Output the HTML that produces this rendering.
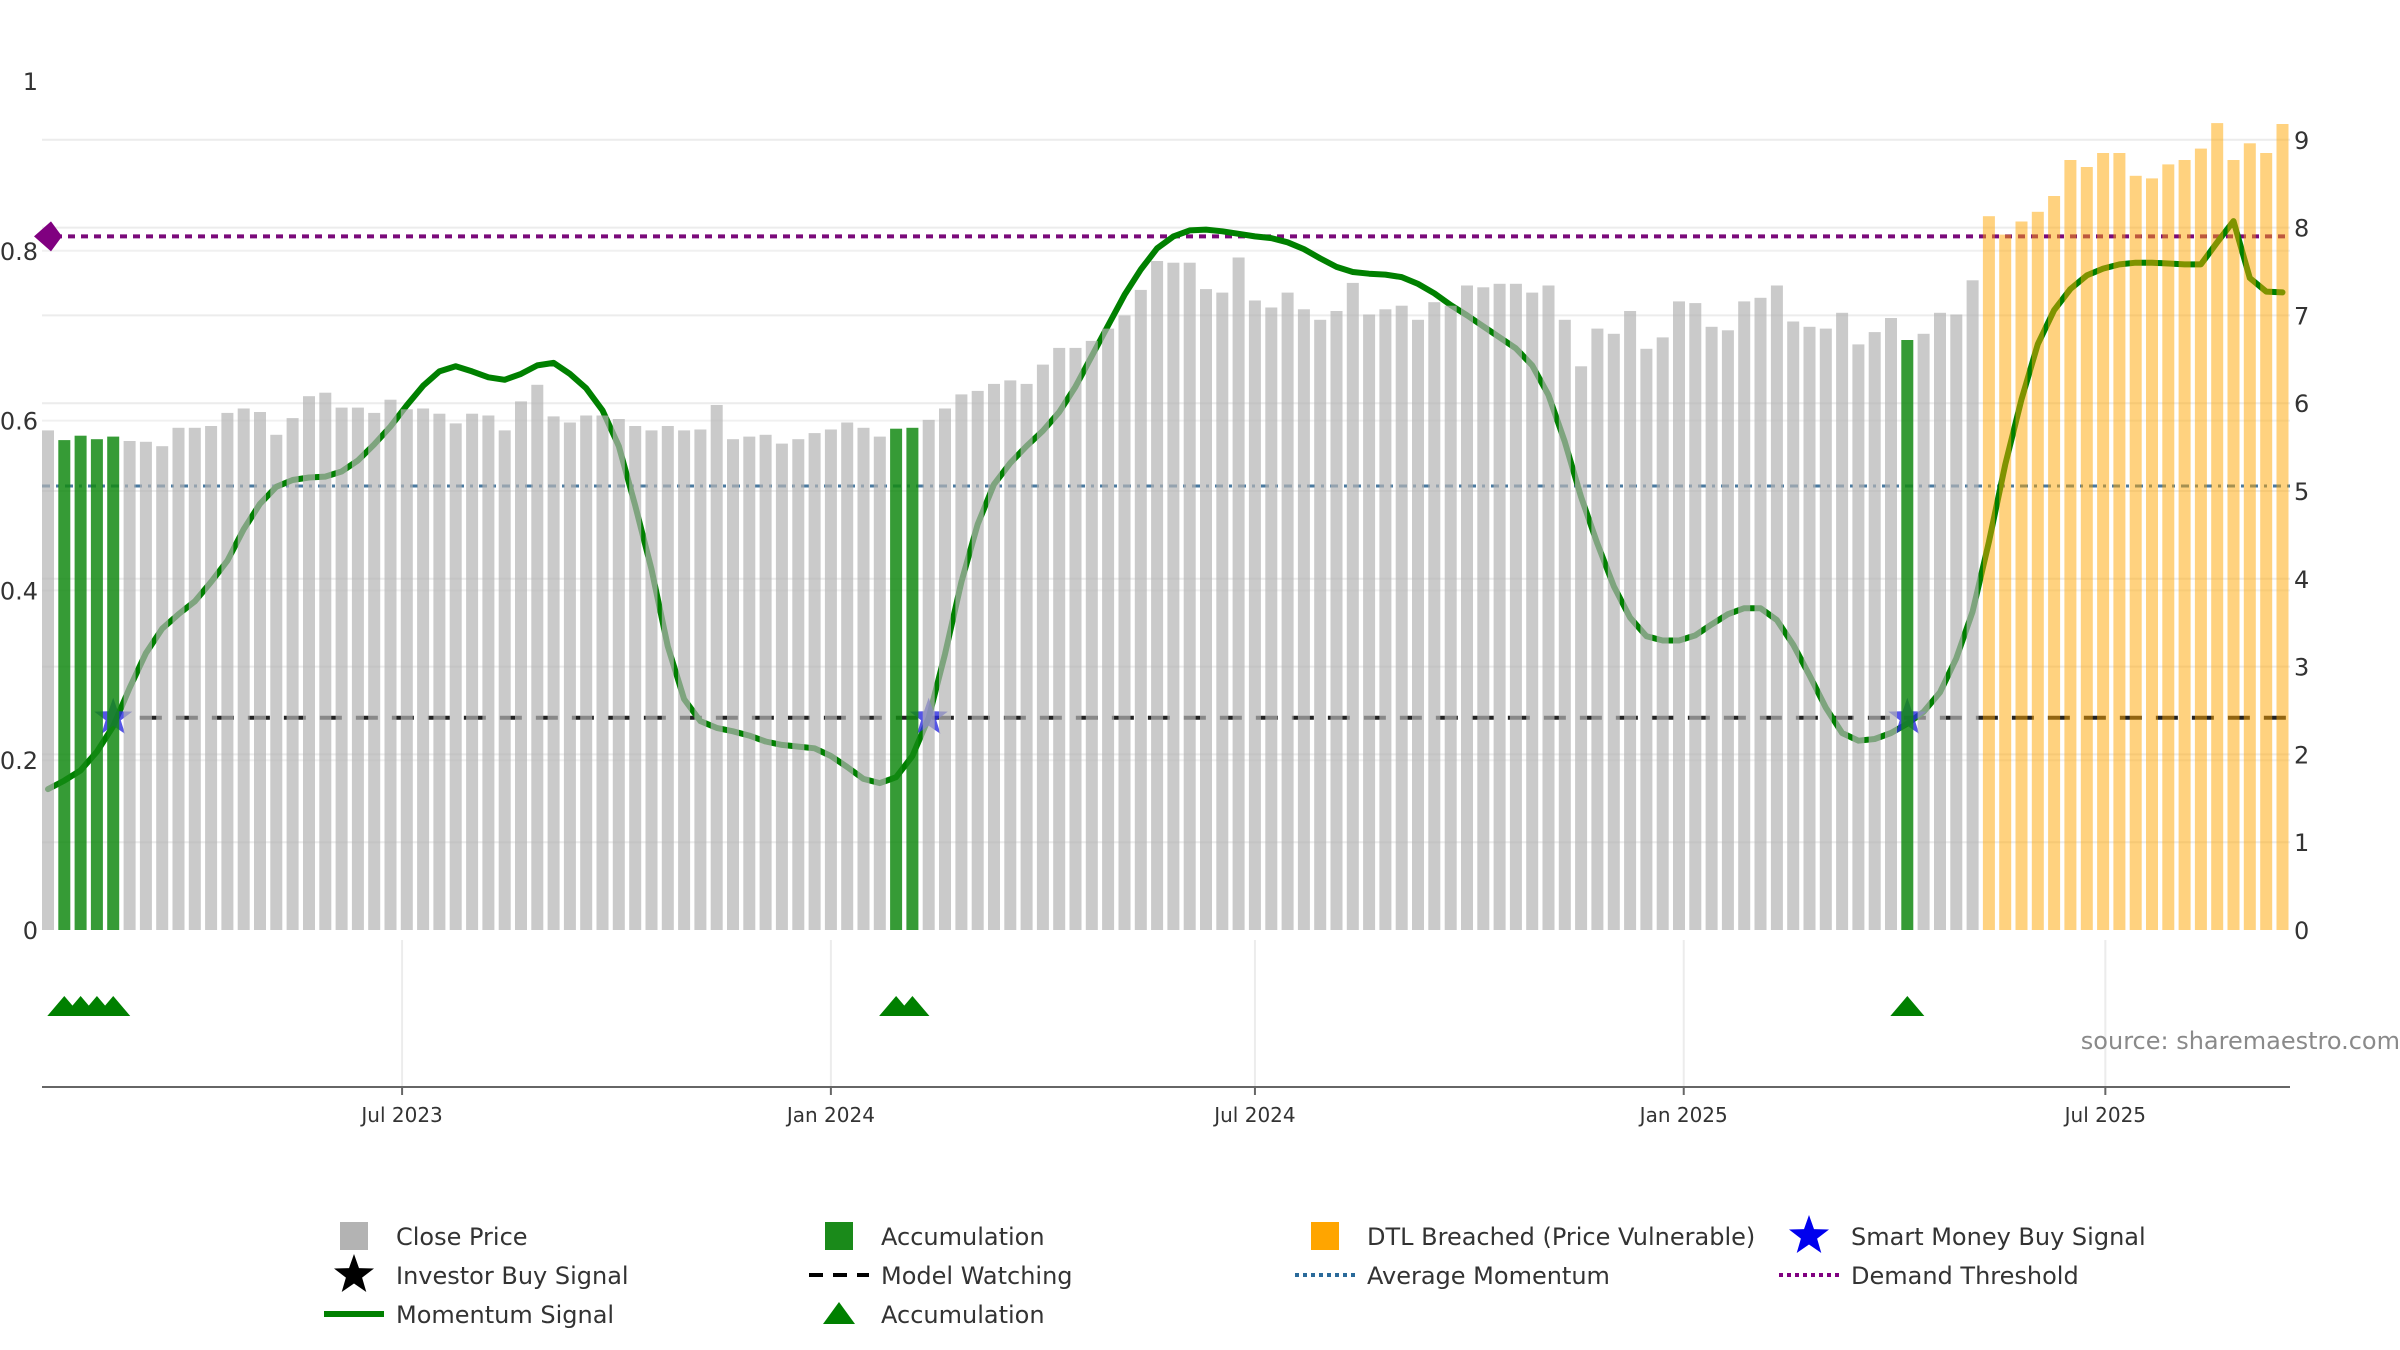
<!DOCTYPE html>
<html>
<head>
<meta charset="utf-8">
<style>
  html,body{margin:0;padding:0;background:#fff;}
  svg{display:block;font-family:"DejaVu Sans","Liberation Sans",sans-serif;}
</style>
</head>
<body>
<svg id="chart" width="2400" height="1350" viewBox="0 0 2400 1350" xmlns="http://www.w3.org/2000/svg"></svg>
<script>
// ---- data ----
const closePrices = [5.69,5.58,5.63,5.59,5.62,5.57,5.56,5.51,5.72,5.72,5.74,5.89,5.94,5.90,5.64,5.83,6.08,6.12,5.95,5.95,5.89,6.04,5.93,5.94,5.88,5.77,5.88,5.86,5.69,6.02,6.21,5.85,5.78,5.86,5.86,5.82,5.74,
5.69,5.74,5.69,5.70,5.98,5.59,5.62,5.64,5.54,5.59,5.66,5.70,5.78,5.72,5.62,5.71,5.72,5.81,5.94,6.10,6.14,6.22,6.26,6.22,6.44,6.63,6.63,6.71,6.85,7.00,7.29,7.62,7.60,7.60,7.30,7.26,7.66,7.17,
7.09,7.26,7.07,6.95,7.05,7.37,7.01,7.07,7.11,6.95,7.15,7.11,7.34,7.32,7.36,7.36,7.26,7.34,6.95,6.42,6.85,6.79,7.05,6.62,6.75,7.16,7.14,6.87,6.83,7.16,7.20,7.34,6.93,6.87,6.85,7.03,6.67,
6.81,6.97,6.72,6.79,7.03,7.01,7.40,8.13,7.92,8.07,8.18,8.36,8.77,8.69,8.85,8.85,8.59,8.56,8.72,8.77,8.90,9.19,8.77,8.96,8.85,9.18];
const momentum = [.166,.176,.188,.21,.24,.285,.326,.355,.372,.387,.41,.435,.472,.502,.522,.53,.533,.534,.54,.553,.572,.593,.618,.641,.658,.664,.658,.651,.648,.655,.665,.668,.655,.638,.612,.57,.5,.425,.334,.272,
.246,.238,.234,.229,.222,.218,.216,.214,.205,.192,.178,.173,.18,.205,.25,.325,.41,.478,.525,.55,.57,.588,.61,.64,.676,.712,.748,.778,.803,.817,.824,.825,.823,.82,.817,.815,.81,.802,.791,.781,
.775,.773,.772,.769,.761,.75,.736,.724,.711,.698,.685,.665,.63,.575,.51,.455,.405,.368,.346,.341,.341,.347,.36,.372,.379,.379,.365,.336,.3,.262,.232,.223,.225,.232,.243,.257,.28,.32,.375,.457,
.548,.625,.69,.73,.755,.771,.779,.784,.786,.786,.785,.784,.784,.81,.835,.768,.752,.751];
const accumulationWeeks = [2,3,4,5,53,54,115];
const smartMoneyWeeks = [5,55,115];
const dtlStartWeek = 120;
const demandThreshold = 0.817;
const averageMomentum = 0.523;
const modelWatching = 0.25;
const watchStartWeek = 7;
const leftTicks = [0,0.2,0.4,0.6,0.8,1];
const leftTickLabels = ["0","0.2","0.4","0.6","0.8","1"];
const rightTicks = [0,1,2,3,4,5,6,7,8,9];
const dateTickWeeks = [22.71,49,75,101.29,127.14];
const dateTickLabels = ["Jul 2023","Jan 2024","Jul 2024","Jan 2025","Jul 2025"];

// ---- scales ----
const NS="http://www.w3.org/2000/svg";
const svg=document.getElementById('chart');
const X0=48, STEP=16.31, BASE=930, LEFTH=849, RIGHTU=87.8, PL=42, PR=2290;
const xw = w => X0 + (w-1)*STEP;
const yl = v => BASE - v*LEFTH;
const yr = v => BASE - v*RIGHTU;
function mk(tag, attrs, parent){const e=document.createElementNS(NS,tag);for(const k in attrs)e.setAttribute(k,attrs[k]);(parent||svg).appendChild(e);return e;}
function starPts(cx,cy,R,r){let p=[];for(let i=0;i<10;i++){const a=-Math.PI/2+i*Math.PI/5;const rr=i%2?r:R;p.push((cx+rr*Math.cos(a)).toFixed(1)+','+(cy+rr*Math.sin(a)).toFixed(1));}return p.join(' ');}

// gridlines
const grid=mk('g',{});


rightTicks.forEach(t=>{ if(t>0) mk('line',{x1:PL,x2:PR,y1:yr(t),y2:yr(t),stroke:'#ececec','stroke-width':2},grid);});
leftTicks.forEach(t=>{ if(t>0 && t<1) mk('line',{x1:PL,x2:PR,y1:yl(t),y2:yl(t),stroke:'#f0f0f0','stroke-width':2},grid);});
dateTickWeeks.forEach(w=>{ mk('line',{x1:xw(w),x2:xw(w),y1:940,y2:1087,stroke:'#ececec','stroke-width':2},grid);});

// reference lines
const dl=mk('line',{x1:PL,x2:PR,y1:yl(demandThreshold),y2:yl(demandThreshold),stroke:'#7a0a7a','stroke-width':4,'stroke-dasharray':'7,6'});


const dd=mk('polygon',{points:`${PL-8},${yl(demandThreshold)} ${PL+9},${yl(demandThreshold)-15} ${PL+20},${yl(demandThreshold)} ${PL+9},${yl(demandThreshold)+15}`,fill:'#800080'});


const am=mk('line',{x1:PL,x2:PR,y1:yl(averageMomentum),y2:yl(averageMomentum),stroke:'#4a7aa0','stroke-width':3,'stroke-dasharray':'8,6,3,6'});


const mw=mk('line',{x1:xw(watchStartWeek)-6,x2:PR,y1:yl(modelWatching),y2:yl(modelWatching),stroke:'#222','stroke-width':4,'stroke-dasharray':'22,14'});



// momentum line
let d='';momentum.forEach((v,i)=>{d+=(i?'L':'M')+xw(i+1).toFixed(1)+','+yl(v).toFixed(1);});
const ml=mk('path',{d:d,fill:'none',stroke:'#008000','stroke-width':6,'stroke-linejoin':'round','stroke-linecap':'round'});



// smart money stars
smartMoneyWeeks.forEach(w=>{
  const s=mk('polygon',{points:starPts(xw(w),yl(modelWatching),20,8),fill:'#2a2ae0','fill-opacity':0.8});
  
  
});

// bars
const bars=mk('g',{});


closePrices.forEach((v,i)=>{
  const w=i+1;
  let fill='#b3b3b3',op=0.7;
  if(accumulationWeeks.includes(w)){fill='#138a13';op=0.85;}
  else if(w>=dtlStartWeek){fill='#ffa500';op=0.5;}
  const r=mk('rect',{x:(xw(w)-6).toFixed(1),y:yr(v).toFixed(1),width:12,height:(BASE-yr(v)).toFixed(1),fill:fill,'fill-opacity':op},bars);
  
  
});

// accumulation triangles
accumulationWeeks.forEach(w=>{
  const cx=xw(w),cy=1006;
  const t=mk('polygon',{points:`${cx-17},${cy+10} ${cx},${cy-10} ${cx+17},${cy+10}`,fill:'#008000'});
  
  
});

// axes
const ax=mk('line',{x1:PL,x2:PR,y1:1087,y2:1087,stroke:'#666','stroke-width':2});


dateTickWeeks.forEach((w,i)=>{
  mk('line',{x1:xw(w),x2:xw(w),y1:1087,y2:1095,stroke:'#666','stroke-width':2});
  const t=mk('text',{x:xw(w),y:1122,'font-size':20,fill:'#333','text-anchor':'middle'});
  t.textContent=dateTickLabels[i];
  
  
});
leftTicks.forEach((v,i)=>{
  const t=mk('text',{x:38,y:yl(v)+9,'font-size':24,fill:'#333','text-anchor':'end'});
  t.textContent=leftTickLabels[i];
  
  
});
rightTicks.forEach(v=>{
  const t=mk('text',{x:2294,y:yr(v)+9,'font-size':24,fill:'#333','text-anchor':'start'});
  t.textContent=String(v);
  
  
});
const src=mk('text',{x:2400,y:1049,'font-size':24,fill:'#8a8a8a','text-anchor':'end'});
src.textContent='source: sharemaestro.com';



// legend
const legendItems=[
 ['Close Price','sq','#b3b3b3',354,1236],['Accumulation','sq','#1a8a1a',839,1236],['DTL Breached (Price Vulnerable)','sq','#ffa500',1325,1236],['Smart Money Buy Signal','star','#0000ee',1809,1236],
 ['Investor Buy Signal','star','#000',354,1275],['Model Watching','dash','#000',839,1275],['Average Momentum','dot','#2a6a9a',1325,1275],['Demand Threshold','dot','#800080',1809,1275],
 ['Momentum Signal','line','#008000',354,1314],['Accumulation','tri','#008000',839,1314]];
const lg=mk('g',{});


legendItems.forEach(it=>{
  const [label,type,col,x,y]=it;
  const g=mk('g',{},lg);
  
  
  if(type==='sq') mk('rect',{x:x-14,y:y-14,width:28,height:28,fill:col},g);
  else if(type==='star') mk('polygon',{points:starPts(x,y,21,8.5),fill:col},g);
  else if(type==='dash') mk('line',{x1:x-30,x2:x+30,y1:y,y2:y,stroke:col,'stroke-width':4,'stroke-dasharray':'14,10'},g);
  else if(type==='dot') mk('line',{x1:x-30,x2:x+30,y1:y,y2:y,stroke:col,'stroke-width':4,'stroke-dasharray':'4,4'},g);
  else if(type==='line') mk('line',{x1:x-30,x2:x+30,y1:y,y2:y,stroke:col,'stroke-width':6},g);
  else if(type==='tri') mk('polygon',{points:`${x-16},${y+10} ${x},${y-12} ${x+16},${y+10}`,fill:col},g);
  const t=mk('text',{x:x+42,y:y+9,'font-size':24,fill:'#333'},g);
  t.textContent=label;
});
</script>
</body>
</html>
